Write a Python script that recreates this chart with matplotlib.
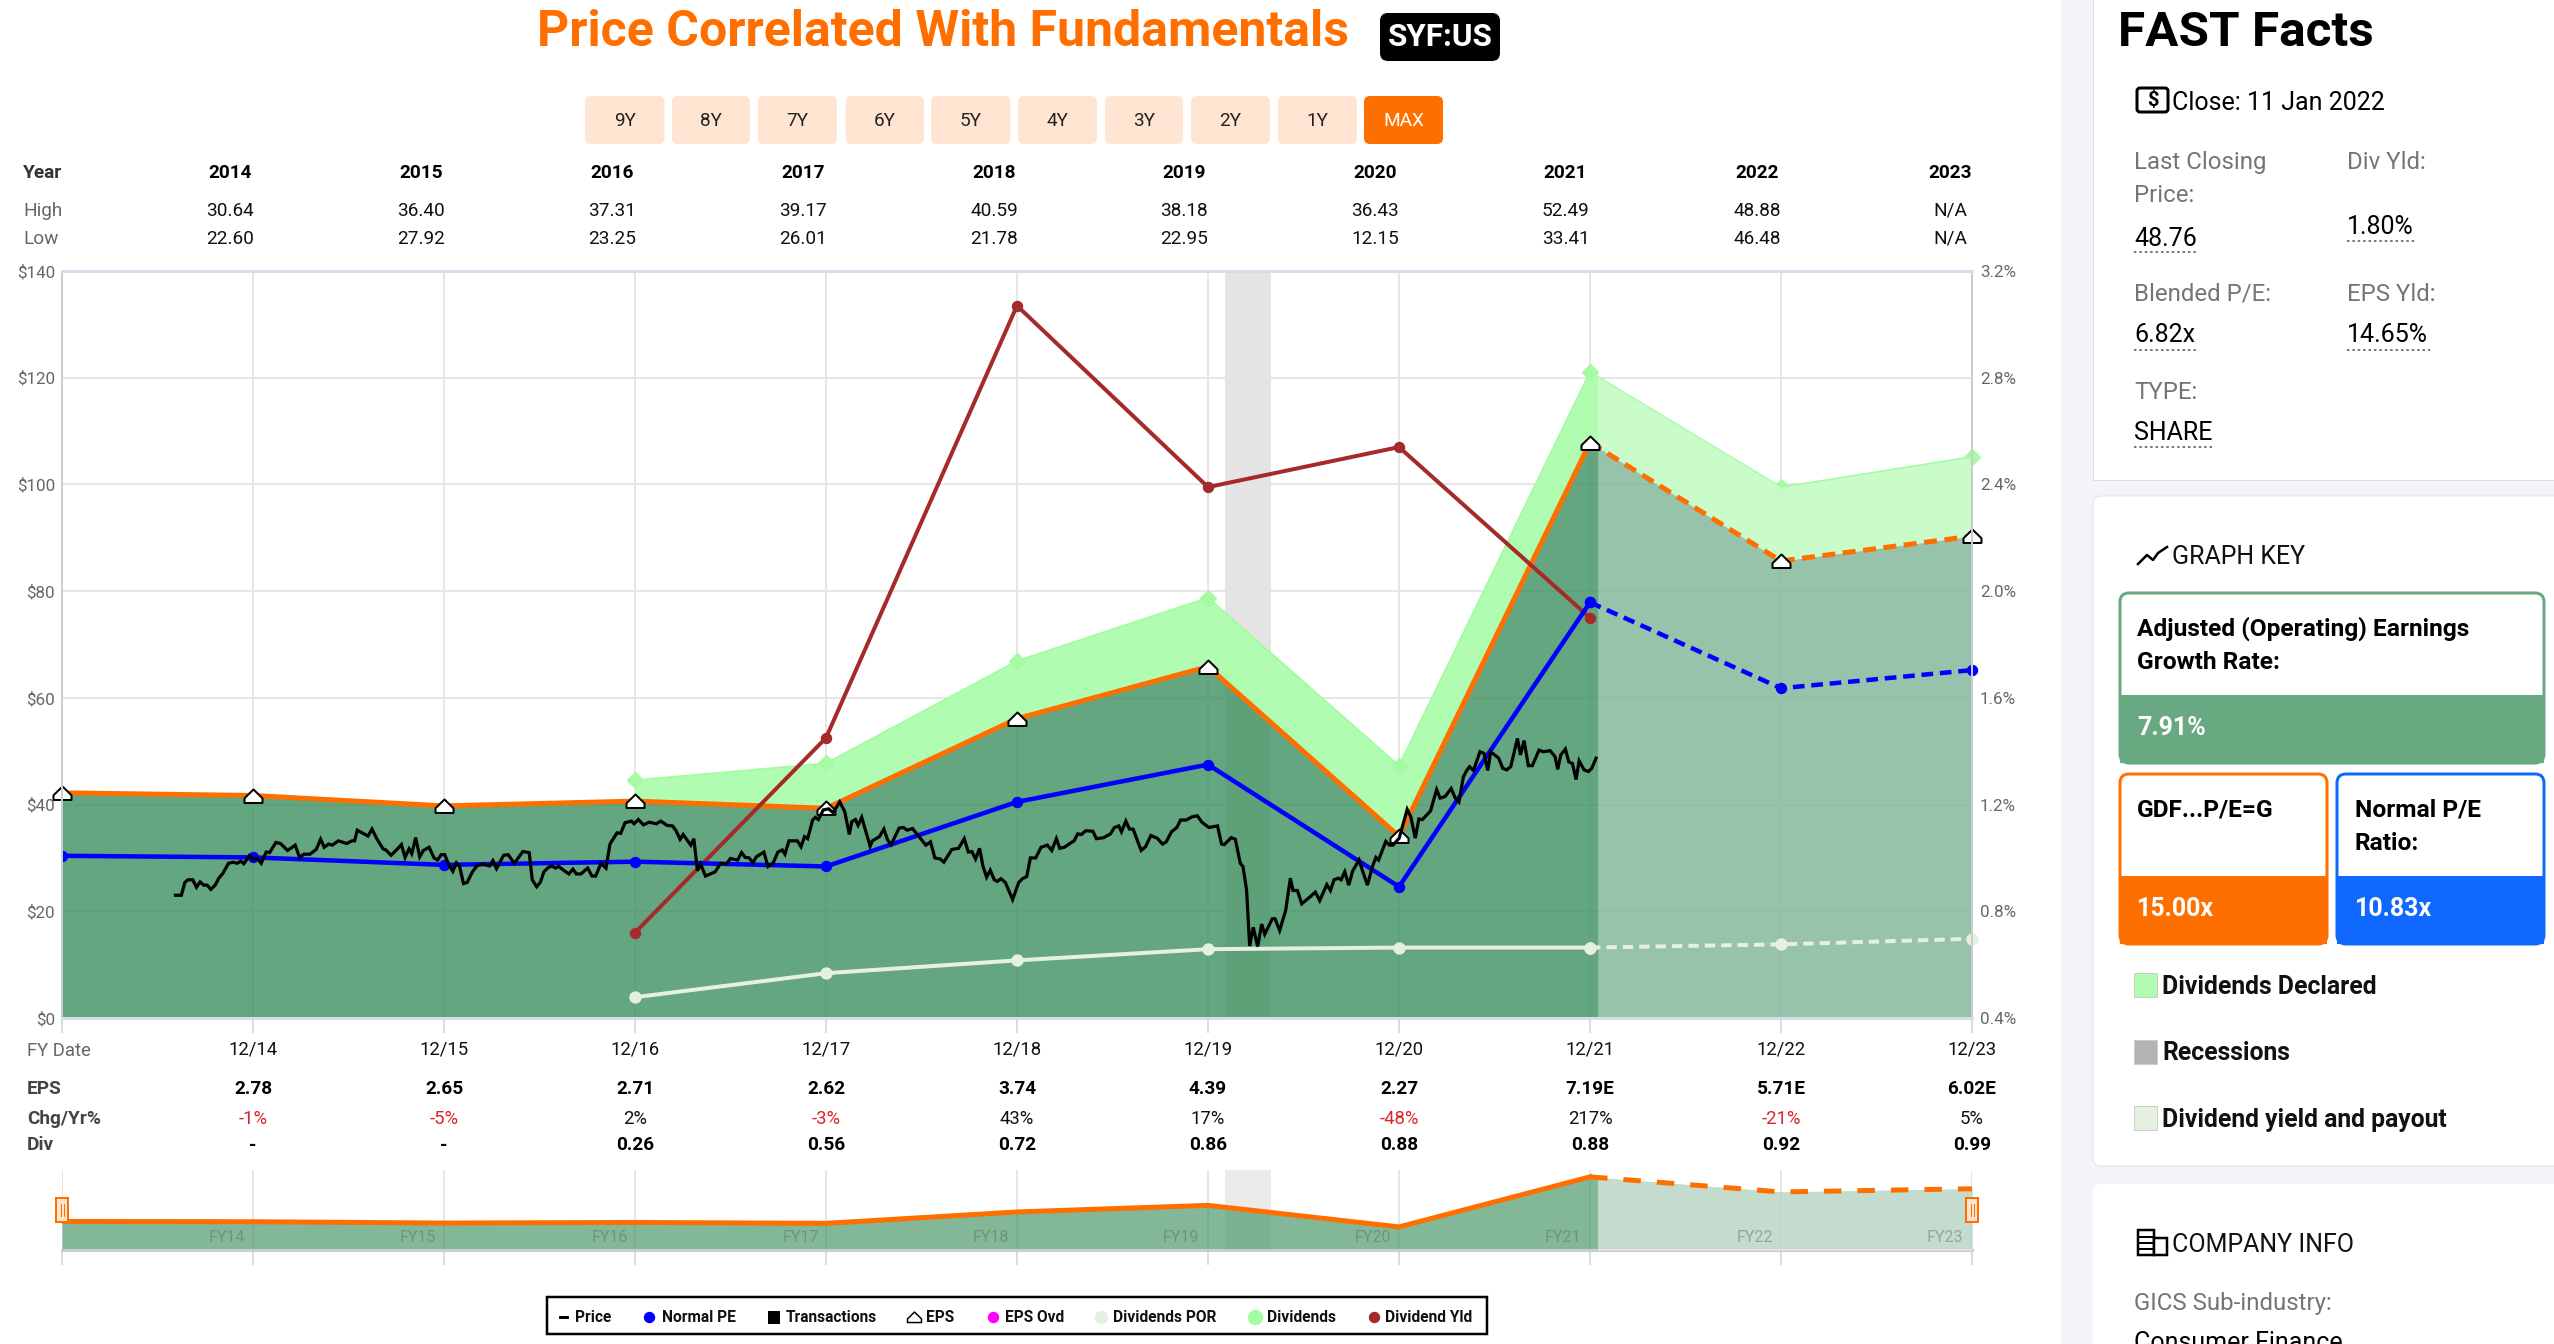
import numpy as np
import matplotlib
matplotlib.use("Agg")
import matplotlib.pyplot as plt
from matplotlib.patches import FancyBboxPatch, Rectangle
from matplotlib.path import Path
from matplotlib.transforms import blended_transform_factory

plt.rcParams['font.family'] = ['Roboto', 'DejaVu Sans']

W, H = 2554, 1344
PX = 0.72  # px to pt at dpi 100

# fiscal year ends (13 = 12/13)
fy = [13, 14, 15, 16, 17, 18, 19, 20, 21, 22, 23]
eps_price = [42.2, 41.7, 39.75, 40.65, 39.3, 56.1, 65.85, 34.05, 107.85, 85.65, 90.3]
normal_pe = [30.4, 30.1, 28.7, 29.3, 28.4, 40.5, 47.5, 24.6, 77.9, 61.8, 65.2]

div_fy = [16, 17, 18, 19, 20, 21, 22, 23]
div_por = [3.9, 8.4, 10.8, 12.9, 13.2, 13.2, 13.8, 14.85]
div_top = [44.55, 47.7, 66.9, 78.75, 47.25, 121.05, 99.45, 105.15]

yld_fy = [16, 17, 18, 19, 20, 21]
div_yield = [0.72, 1.45, 3.07, 2.39, 2.54, 1.90]

recession = (19.09, 19.33)
forecast_start = 21.04

price_t = [13.594, 13.625, 13.643, 13.660, 13.685, 13.704, 13.723, 13.742, 13.760, 13.779, 13.802, 13.821,
           13.842, 13.872, 13.896, 13.917, 13.936, 13.952, 13.980, 14.003, 14.022, 14.043, 14.069, 14.087,
           14.120, 14.144, 14.181, 14.221, 14.244, 14.267, 14.298, 14.331, 14.354, 14.373, 14.396, 14.415,
           14.447, 14.490, 14.518, 14.532, 14.546, 14.602, 14.623, 14.648, 14.681, 14.695, 14.723, 14.751,
           14.777, 14.796, 14.817, 14.831, 14.852, 14.873, 14.892, 14.922, 14.948, 14.966, 14.985, 15.004,
           15.023, 15.046, 15.065, 15.081, 15.102, 15.121, 15.149, 15.174, 15.202, 15.238, 15.256, 15.275,
           15.312, 15.336, 15.368, 15.413, 15.446, 15.462, 15.485, 15.504, 15.523, 15.546, 15.565, 15.584,
           15.600, 15.630, 15.654, 15.675, 15.693, 15.717, 15.752, 15.775, 15.794, 15.822, 15.848, 15.869,
           15.906, 15.925, 15.948, 15.981, 15.995, 16.018, 16.044, 16.074, 16.112, 16.135, 16.168, 16.196,
           16.215, 16.236, 16.252, 16.292, 16.308, 16.327, 16.343, 16.369, 16.420, 16.448, 16.479, 16.500,
           16.537, 16.558, 16.577, 16.598, 16.617, 16.635, 16.675, 16.696, 16.724, 16.748, 16.771, 16.785,
           16.806, 16.850, 16.869, 16.888, 16.904, 16.930, 16.944, 16.960, 16.986, 17.014, 17.037, 17.072,
           17.098, 17.122, 17.135, 17.154, 17.168, 17.187, 17.231, 17.243, 17.280, 17.303, 17.322, 17.341,
           17.383, 17.406, 17.425, 17.453, 17.500, 17.523, 17.547, 17.570, 17.598, 17.617, 17.659, 17.694,
           17.724, 17.745, 17.764, 17.783, 17.804, 17.822, 17.841, 17.860, 17.881, 17.897, 17.916, 17.939,
           17.977, 18.009, 18.028, 18.051, 18.070, 18.098, 18.126, 18.159, 18.182, 18.206, 18.224, 18.248,
           18.281, 18.299, 18.318, 18.337, 18.360, 18.397, 18.416, 18.454, 18.489, 18.510, 18.533, 18.547,
           18.570, 18.589, 18.608, 18.650, 18.673, 18.701, 18.734, 18.762, 18.781, 18.809, 18.837, 18.856,
           18.886, 18.916, 18.944, 18.968, 19.005, 19.050, 19.071, 19.085, 19.122, 19.143, 19.169, 19.183,
           19.202, 19.218, 19.237, 19.260, 19.281, 19.297, 19.337, 19.351, 19.375, 19.407, 19.431, 19.445,
           19.468, 19.491, 19.534, 19.562, 19.585, 19.622, 19.641, 19.660, 19.683, 19.697, 19.716, 19.737,
           19.758, 19.791, 19.809, 19.835, 19.861, 19.879, 19.893, 19.931, 19.950, 19.968, 20.001, 20.043,
           20.062, 20.085, 20.104, 20.123, 20.165, 20.197, 20.215, 20.241, 20.273, 20.295, 20.314, 20.337,
           20.355, 20.369, 20.390, 20.424, 20.445, 20.465, 20.480, 20.522, 20.543, 20.564, 20.585, 20.620,
           20.636, 20.655, 20.677, 20.698, 20.733, 20.756, 20.791, 20.817, 20.831, 20.847, 20.871, 20.889,
           20.908, 20.927, 20.943, 20.969, 20.992, 21.009, 21.032]
price_v = [23.0, 23.0, 25.4, 25.9, 25.9, 24.5, 25.5, 24.9, 24.9, 24.1, 24.9, 26.2,
           27.1, 29.0, 29.2, 29.0, 29.4, 28.9, 30.4, 29.7, 29.9, 29.0, 31.1, 31.0,
           32.9, 32.7, 31.4, 32.4, 30.1, 30.7, 30.7, 31.6, 33.5, 32.0, 32.6, 32.4,
           33.2, 32.7, 33.2, 33.2, 35.2, 34.1, 35.4, 33.6, 31.7, 31.5, 30.5, 31.5,
           32.5, 30.1, 31.7, 30.8, 33.8, 30.2, 31.4, 32.0, 30.0, 29.6, 30.6, 30.6,
           28.9, 27.5, 29.1, 28.5, 25.2, 25.4, 27.4, 28.6, 28.9, 28.5, 29.5, 28.0,
           30.5, 30.6, 29.0, 31.2, 31.0, 25.9, 24.6, 25.4, 27.4, 28.2, 28.5, 28.1,
           28.4, 27.6, 27.0, 27.9, 27.0, 27.0, 28.1, 26.6, 26.6, 29.0, 28.1, 32.6,
           34.7, 34.6, 36.6, 36.9, 36.4, 37.2, 36.2, 36.7, 36.4, 36.9, 36.1, 36.0,
           35.1, 33.5, 34.4, 32.4, 33.6, 27.6, 28.9, 26.6, 27.4, 29.0, 28.9, 29.9,
           29.6, 31.0, 30.1, 30.0, 29.1, 30.2, 31.1, 28.4, 29.1, 31.1, 31.5, 30.7,
           33.2, 33.2, 32.1, 34.0, 33.6, 37.1, 37.6, 37.2, 39.0, 39.2, 38.5, 40.5,
           38.7, 34.4, 36.8, 37.2, 36.1, 37.6, 32.2, 33.2, 34.0, 35.4, 33.4, 32.5,
           35.6, 35.7, 35.2, 35.5, 33.4, 32.4, 33.0, 30.0, 29.8, 29.2, 31.6, 31.8,
           33.6, 31.1, 31.2, 29.8, 31.8, 28.4, 26.4, 27.7, 25.9, 25.6, 26.1, 25.4,
           22.2, 25.4, 26.1, 26.5, 30.0, 30.0, 32.0, 32.4, 31.4, 33.6, 31.8, 32.0,
           32.8, 33.2, 34.5, 34.4, 35.1, 35.0, 33.6, 33.8, 34.5, 35.7, 36.0, 34.9,
           36.9, 35.4, 35.4, 31.4, 32.1, 34.2, 33.7, 32.6, 33.0, 34.9, 35.7, 37.1,
           37.1, 37.7, 37.9, 36.7, 35.7, 36.0, 32.6, 32.5, 33.8, 33.5, 29.0, 28.4,
           24.0, 13.5, 17.0, 13.4, 17.6, 15.7, 18.6, 18.6, 16.4, 20.2, 26.2, 23.9,
           23.9, 21.4, 22.7, 23.6, 22.0, 25.0, 23.9, 25.9, 26.2, 25.9, 27.4, 24.9,
           27.6, 29.6, 27.6, 24.9, 28.4, 30.1, 29.6, 33.1, 32.4, 32.4, 33.7, 39.1,
           37.7, 33.7, 37.3, 37.2, 38.8, 42.8, 41.2, 41.5, 43.0, 41.2, 40.5, 45.2,
           46.4, 47.1, 46.4, 49.9, 49.6, 46.4, 49.9, 48.7, 46.8, 46.5, 47.1, 52.4,
           49.3, 52.0, 47.3, 47.3, 50.2, 49.9, 50.1, 49.0, 46.6, 49.3, 50.4, 48.0,
           47.7, 44.7, 48.2, 46.5, 46.2, 46.8, 48.7]

# table text
years = ['2014', '2015', '2016', '2017', '2018', '2019', '2020', '2021', '2022', '2023']
highs = ['30.64', '36.40', '37.31', '39.17', '40.59', '38.18', '36.43', '52.49', '48.88', 'N/A']
lows = ['22.60', '27.92', '23.25', '26.01', '21.78', '22.95', '12.15', '33.41', '46.48', 'N/A']
year_x = [230, 421, 612, 803, 994, 1184, 1375.5, 1565.6, 1757.5, 1950]
fy_dates = ['12/14', '12/15', '12/16', '12/17', '12/18', '12/19', '12/20', '12/21', '12/22', '12/23']
eps_vals = ['2.78', '2.65', '2.71', '2.62', '3.74', '4.39', '2.27', '7.19E', '5.71E', '6.02E']
chg_vals = ['-1%', '-5%', '2%', '-3%', '43%', '17%', '-48%', '217%', '-21%', '5%']
div_vals = ['-', '-', '0.26', '0.56', '0.72', '0.86', '0.88', '0.88', '0.92', '0.99']
fy_names = ['FY14', 'FY15', 'FY16', 'FY17', 'FY18', 'FY19', 'FY20', 'FY21', 'FY22', 'FY23']
fy_name_x = [227, 418, 610, 801, 991, 1181, 1373, 1563, 1755, 1945]
buttons = ['9Y', '8Y', '7Y', '6Y', '5Y', '4Y', '3Y', '2Y', '1Y', 'MAX']
button_x = [(585, 664.6), (672, 750), (758, 837), (845.6, 924), (931, 1010.5), (1018, 1097),
            (1105, 1183), (1191, 1270), (1278, 1357), (1364, 1443)]

ORANGE = '#ff6f00'
GREEN = '#3c905f'
LIGHT = '#b0fcb0'
BLUE = '#0000ff'
BROWN = '#a52a2a'
POR = '#e6f0e0'
GRID = '#e6e6e6'
AXIS = '#d5dcea'

fig = plt.figure(figsize=(W / 100, H / 100), dpi=100, facecolor='white')
page = fig.add_axes([0, 0, 1, 1], zorder=0)
page.set_xlim(0, W)
page.set_ylim(H, 0)
page.axis('off')


def txt(x, y, s, px, color='black', weight='normal', ha='left', **kw):
    # y + 1.5 since va=center sits a bit high against the browser text
    return page.text(x, y + 1.5, s, fontsize=px * PX, color=color, fontweight=weight, ha=ha, va='center', **kw)


def rbox(x0, y0, x1, y1, r=6, **kw):
    p = FancyBboxPatch((x0 + r, y0 + r), x1 - x0 - 2 * r, y1 - y0 - 2 * r,
                       boxstyle=f'round,pad={r},rounding_size={r}', **kw)
    page.add_patch(p)
    return p


# main chart
def axes_at(x0, y0, x1, y1, z):
    return fig.add_axes([x0 / W, (H - y1) / H, (x1 - x0) / W, (y1 - y0) / H], zorder=z)


ax = axes_at(62, 271, 1972, 1018, 2)
ax.set_xlim(13, 23)
ax.set_ylim(0, 140)
ax2 = ax.twinx()
ax2.set_ylim(0.4, 3.2)
ax2.set_zorder(3)
ax2.patch.set_visible(False)

ax.set_axisbelow(True)
ax.grid(True, color=GRID, lw=2 * PX)
ax.axvspan(recession[0], recession[1], color='#e4e4e4', lw=0, zorder=1)

ax.fill_between(div_fy, eps_price[3:], div_top, color=LIGHT, lw=0, zorder=2)
ax.fill_between(fy, 0, eps_price, color=GREEN, alpha=0.8, lw=0, zorder=2)
ax.plot(div_fy, div_top, color='#a4fba4', lw=2 * PX, marker='D', ms=12 * PX, zorder=3, clip_on=False)

# forecast part is washed out
fx = [forecast_start, 22, 23]
ftop = np.interp(fx, div_fy, div_top)
ax.fill_between(fx, 0, ftop, color='white', alpha=0.33, lw=0, zorder=4)

dash = (0, (2.6, 1.5))
ax.plot(fy[:9], eps_price[:9], color=ORANGE, lw=5 * PX, zorder=5, solid_joinstyle='miter')
ax.plot(fy[8:], eps_price[8:], color=ORANGE, lw=5 * PX, ls=dash, zorder=5)
ax.plot(div_fy[:6], div_por[:6], color=POR, lw=4 * PX, marker='o', ms=11 * PX, zorder=6)
ax.plot(div_fy[5:], div_por[5:], color=POR, lw=4 * PX, ls=dash, marker='o', ms=11 * PX, zorder=6, clip_on=False)
ax.plot(yld_fy, div_yield, color=BROWN, lw=4 * PX, marker='o', ms=10 * PX, zorder=7, transform=ax2.transData)
ax.plot(fy[:9], normal_pe[:9], color=BLUE, lw=4.5 * PX, marker='o', ms=10 * PX, zorder=8)
ax.plot(fy[8:], normal_pe[8:], color=BLUE, lw=4.5 * PX, ls=dash, marker='o', ms=10 * PX, zorder=8, clip_on=False)

house = Path([(-1, -0.72), (1, -0.72), (1, -0.2), (0, 0.78), (-1, -0.2), (-1, -0.72)], closed=True)
ax.plot(fy, eps_price, ls='none', marker=house, ms=18 * PX, mfc='white', mec='black', mew=2 * PX, zorder=9, clip_on=False)
ax.plot(price_t, price_v, color='black', lw=3.2 * PX, zorder=10, solid_joinstyle='miter')

ax.set_xticks(fy)
ax.set_xticklabels([''] + fy_dates, fontsize=18.5 * PX, color='#111111')
ax.tick_params(axis='x', length=15 * PX, width=2 * PX, color=AXIS, pad=8 * PX)
ax.set_yticks(np.arange(0, 141, 20))
ax.set_yticklabels(['$' + str(v) for v in range(0, 141, 20)], fontsize=17 * PX, color='#666666')
ax.tick_params(axis='y', length=0, pad=7 * PX)
ax2.set_yticks(np.arange(0.4, 3.21, 0.4))
ax2.set_yticklabels([f'{v:.1f}%' for v in np.arange(0.4, 3.21, 0.4)], fontsize=17 * PX, color='#666666')
ax2.tick_params(axis='y', length=0, pad=8 * PX)
for a in (ax, ax2):
    a.spines['top'].set(color=AXIS, lw=3 * PX)
    a.spines['bottom'].set(color=AXIS, lw=3 * PX)
    a.spines['left'].set(color='#cccccc', lw=2 * PX)
    a.spines['right'].set(color='#cccccc', lw=2 * PX)

# navigator
nav = axes_at(62, 1170, 1972, 1250, 2)
nav.set_xlim(13, 23)
nav.set_ylim(0, 118)
nav.axvspan(recession[0], recession[1], color='#ebebeb', lw=0, zorder=1)
nav.fill_between(fy, 0, eps_price, color=GREEN, alpha=0.64, lw=0, zorder=2)
fx2 = [forecast_start, 22, 23]
nav.fill_between(fx2, 0, np.interp(fx2, fy, eps_price), color='white', alpha=0.52, lw=0, zorder=3)
nav.plot(fy[:9], eps_price[:9], color=ORANGE, lw=5 * PX, zorder=4, solid_joinstyle='miter')
nav.plot(fy[8:], eps_price[8:], color=ORANGE, lw=5 * PX, ls=(0, (3.5, 3.2)), zorder=4)
nav.set_xticks(fy)
nav.set_xticklabels([])
nav.set_yticks([])
nav.grid(True, axis='x', color=GRID, lw=2 * PX, zorder=0)
nav.set_axisbelow(True)
nav.tick_params(axis='x', length=15 * PX, width=2 * PX, color=AXIS)
for s in ('top', 'left', 'right'):
    nav.spines[s].set_visible(False)
nav.spines['bottom'].set(color='#cccccc', lw=3 * PX)
nav.patch.set_alpha(0)

over = fig.add_axes([0, 0, 1, 1], zorder=5)
over.set_xlim(0, W)
over.set_ylim(H, 0)
over.axis('off')
for hx in (62, 1972):
    over.add_patch(Rectangle((hx - 6, 1198), 12, 24, fc='#fee4d1', ec=ORANGE, lw=2 * PX))
    over.plot([hx - 1.5, hx - 1.5], [1204, 1216], color=ORANGE, lw=1 * PX)
    over.plot([hx + 1.5, hx + 1.5], [1204, 1216], color=ORANGE, lw=1 * PX)
for name, nx in zip(fy_names, fy_name_x):
    col = '#8fa89b' if name in ('FY22', 'FY23') else '#70927f'
    over.text(nx, 1237, name, fontsize=16 * PX, color=col, ha='center', va='center')

# title
txt(943, 31, 'Price Correlated With Fundamentals', 50, color=ORANGE, weight='bold', ha='center')
rbox(1380, 13, 1500, 61, r=8, fc='black', ec='none')
txt(1440, 35, 'SYF:US', 31.5, color='white', weight='bold', ha='center')

for b, (x0, x1) in zip(buttons, button_x):
    on = b == 'MAX'
    rbox(x0, 96, x1, 144, r=6, fc=ORANGE if on else '#fee4d1', ec='none')
    txt((x0 + x1) / 2, 119, b, 19, color='white' if on else '#222222', ha='center')

# year table
txt(23, 171, 'Year', 19, color='#333333', weight='bold')
txt(23, 209, 'High', 19, color='#666666')
txt(23, 237, 'Low', 19, color='#666666')
for yx, y_, hi, lo in zip(year_x, years, highs, lows):
    txt(yx, 171, y_, 19, weight='bold', ha='center')
    txt(yx, 209, hi, 19, color='#111111', ha='center')
    txt(yx, 237, lo, 19, color='#111111', ha='center')

# eps table under the chart, lined up on the fiscal year ticks
tr = blended_transform_factory(ax.transData, page.transData)
txt(27, 1049, 'FY Date', 18.5, color='#666666')
txt(27, 1088, 'EPS', 19, color='#444444', weight='bold')
txt(27, 1117, 'Chg/Yr%', 19, color='#444444', weight='bold')
txt(27, 1144, 'Div', 19, color='#444444', weight='bold')
for f, e, c, d in zip(fy[1:], eps_vals, chg_vals, div_vals):
    txt(f, 1088, e, 19, weight='bold', ha='center', transform=tr)
    txt(f, 1117, c, 18.5, color='#d9262c' if c.startswith('-') else '#111111', ha='center', transform=tr)
    txt(f, 1144, d, 19, weight='bold', ha='center', transform=tr)

# legend strip
page.add_patch(Rectangle((547, 1297), 940, 37, fc='white', ec='black', lw=2.5 * PX))
page.plot([560, 567], [1317, 1317], color='black', lw=3 * PX)
page.plot([649], [1317], 'o', color=BLUE, ms=10 * PX)
page.add_patch(Rectangle((768, 1310.5), 12, 13, fc='black', ec='none'))
page.plot([914], [1317], ls='none', marker=house, ms=14 * PX, mfc='white', mec='black', mew=1.5 * PX)
page.plot([993], [1317], 'o', color='#ff00ff', ms=10 * PX)
page.plot([1101], [1317], 'o', color=POR, ms=12 * PX)
page.plot([1254.5], [1317], 'o', color='#a4fba4', ms=14 * PX)
page.plot([1374], [1317], 'o', color=BROWN, ms=10 * PX)
legend_names = ['Price', 'Normal PE', 'Transactions', 'EPS', 'EPS Ovd', 'Dividends POR', 'Dividends', 'Dividend Yld']
legend_x = [575, 662, 786, 926, 1005, 1113, 1267, 1385]
for n, lx in zip(legend_names, legend_x):
    txt(lx, 1316, n, 15.5, weight='bold', color='#111111')

# right panel
page.add_patch(Rectangle((2061, 0), W - 2061, H, fc='#f2f4f8', ec='none'))
page.add_patch(Rectangle((2093, -20), 500, 500, fc='white', ec='#dddddd', lw=1 * PX))
page.add_patch(FancyBboxPatch((2093, 496), 500, 670, boxstyle='round,pad=0,rounding_size=8', fc='white', ec='#e4e4e4', lw=1 * PX))
page.add_patch(FancyBboxPatch((2093, 1184), 500, 300, boxstyle='round,pad=0,rounding_size=8', fc='white', ec='none'))

GR = '#757575'
txt(2118, 31, 'FAST Facts', 49.5, weight='bold')
rbox(2137, 88, 2168, 112, r=3, fc='white', ec='black', lw=3 * PX)
txt(2152.5, 99, '$', 20, weight='bold', ha='center', parse_math=False)
txt(2172, 101, 'Close: 11 Jan 2022', 25)
txt(2134, 161, 'Last Closing', 24, color=GR)
txt(2134, 194, 'Price:', 24, color=GR)
txt(2347, 161, 'Div Yld:', 24, color=GR)
txt(2134, 293, 'Blended P/E:', 24, color=GR)
txt(2347, 293, 'EPS Yld:', 24, color=GR)
txt(2134, 391, 'TYPE:', 24, color=GR)

facts = ['48.76', '1.80%', '6.82x', '14.65%', 'SHARE']
fact_x = [2134, 2347, 2134, 2347, 2134]
fact_y = [237, 225, 334, 334, 431]
fact_ul = [(2134, 2198, 252), (2347, 2416, 241), (2134, 2196, 350), (2347, 2430, 350), (2134, 2214, 447)]
for s, x_, y_, (u0, u1, uy) in zip(facts, fact_x, fact_y, fact_ul):
    txt(x_, y_, s, 25)
    page.plot([u0, u1], [uy, uy], color='#777777', lw=2 * PX, ls=(0, (1.2, 1.5)))

page.plot([2138, 2147, 2153, 2158, 2167], [564, 555, 560, 553, 547], color='black', lw=2.5 * PX)
txt(2172, 555, 'GRAPH KEY', 25, color='#111111')

# key cards
page.add_patch(FancyBboxPatch((2120, 593), 424, 170, boxstyle='round,pad=0,rounding_size=9', fc='white', ec='#69a981', lw=3 * PX))
page.add_patch(Rectangle((2120, 695), 424, 68, fc='#69a981', ec='none'))
txt(2137, 627, 'Adjusted (Operating) Earnings', 24.5, weight='bold')
txt(2137, 661, 'Growth Rate:', 24.5, weight='bold')
txt(2137, 726.6, '7.91%', 25, weight='bold', color='white')

page.add_patch(FancyBboxPatch((2120, 774), 207, 170, boxstyle='round,pad=0,rounding_size=9', fc='white', ec=ORANGE, lw=3 * PX))
page.add_patch(Rectangle((2120, 876), 207, 68, fc=ORANGE, ec='none'))
txt(2137, 808, 'GDF...P/E=G', 24.5, weight='bold')
txt(2137, 908, '15.00x', 25, weight='bold', color='white')

page.add_patch(FancyBboxPatch((2337, 774), 207, 170, boxstyle='round,pad=0,rounding_size=9', fc='white', ec='#0f69ff', lw=3 * PX))
page.add_patch(Rectangle((2337, 876), 207, 68, fc='#0f69ff', ec='none'))
txt(2355, 808, 'Normal P/E', 24.5, weight='bold')
txt(2355, 842, 'Ratio:', 24.5, weight='bold')
txt(2355, 908, '10.83x', 25, weight='bold', color='white')

key_names = ['Dividends Declared', 'Recessions', 'Dividend yield and payout']
key_cols = [LIGHT, '#b3b3b3', POR]
key_y = [985, 1052, 1118]
for n, c, ky in zip(key_names, key_cols, key_y):
    page.add_patch(Rectangle((2134, ky - 12), 23, 24, fc=c, ec='#cccccc', lw=1 * PX))
    txt(2162, ky, n, 24.7, weight='bold', color='#111111')

# building icon
page.add_patch(Rectangle((2138, 1230), 16, 25, fc='white', ec='black', lw=2.5 * PX))
page.add_patch(Rectangle((2154, 1238), 13, 17, fc='white', ec='black', lw=2.5 * PX))
for iy in (1237, 1243, 1249):
    page.plot([2139, 2153], [iy, iy], color='black', lw=2 * PX)
txt(2172, 1244, 'COMPANY INFO', 25, color='#111111')
txt(2134, 1302, 'GICS Sub-industry:', 24, color=GR)
txt(2134, 1342, 'Consumer Finance', 25)

fig.savefig('out.png', dpi=100)
